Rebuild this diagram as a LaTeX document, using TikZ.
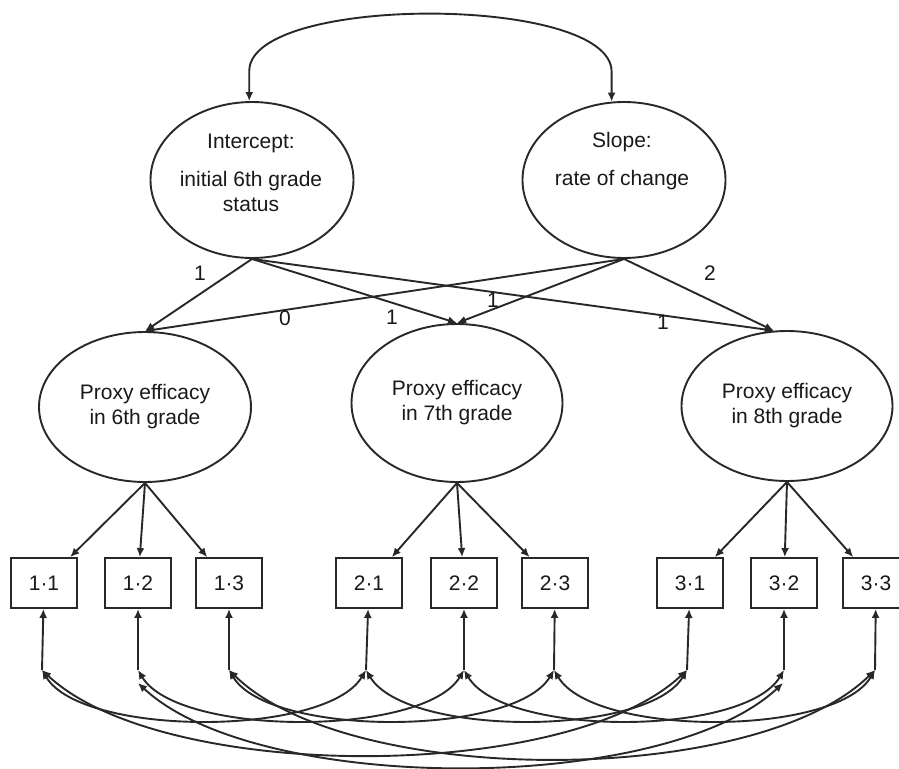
\documentclass[tikz,border=0pt]{standalone}
\usepackage{fontspec}
\setmainfont{Liberation Sans}
\usetikzlibrary{shapes.geometric,arrows.meta,calc}
\definecolor{ink}{RGB}{40,40,40}
\definecolor{txt}{RGB}{25,25,25}
\begin{document}
\begin{tikzpicture}[x=1pt,y=-1pt,
 every node/.style={font=\fontsize{21}{25}\selectfont, text=txt},
 lat/.style={draw=ink, line width=1.9pt, ellipse, inner sep=0pt},
 obs/.style={draw=ink, line width=1.9pt, rectangle, minimum width=66pt, minimum height=50pt, inner sep=0pt},
 arr/.style={draw=ink, line width=1.9pt, -{Latex[length=9pt,width=8pt]}},
 dbl/.style={draw=ink, line width=1.9pt, {Latex[length=9pt,width=8pt]}-{Latex[length=9pt,width=8pt]}},
 lbl/.style={inner sep=0pt}]
\useasboundingbox (0,0) rectangle (899,768);
\fill[white] (0,0) rectangle (899,768);

% growth factors
\node[lat, minimum width=203pt, minimum height=156pt] (int) at (252,180) {};
\node[lat, minimum width=203pt, minimum height=156pt] (slp) at (624,180) {};
\node[align=center] (intT) at (251,173) {Intercept:\\[13pt] initial 6th grade\\ status};
\node[align=center] (slpT) at (622,161) {Slope:\\[13pt] rate of change};

% latent proxy efficacy
\node[lat, minimum width=212pt, minimum height=150pt, align=center] (p6) at (145,407) {Proxy efficacy\\ in 6th grade};
\node[lat, minimum width=211pt, minimum height=158pt, align=center] (p7) at (457,403) {Proxy efficacy\\ in 7th grade};
\node[lat, minimum width=211pt, minimum height=150pt, align=center] (p8) at (787,406) {Proxy efficacy\\ in 8th grade};

% indicators
\node[obs] (b11) at (44,583) {1·1};
\node[obs] (b12) at (138,583) {1·2};
\node[obs] (b13) at (229,583) {1·3};
\node[obs] (b21) at (369,583) {2·1};
\node[obs] (b22) at (464,583) {2·2};
\node[obs] (b23) at (555,583) {2·3};
\node[obs] (b31) at (690,583) {3·1};
\node[obs] (b32) at (784,583) {3·2};
\node[obs] (b33) at (876,583) {3·3};

% error points
\coordinate (j11) at (42,670);
\coordinate (j12) at (138,670);
\coordinate (j12b) at (138,683);
\coordinate (j13) at (229,670);
\coordinate (j21) at (366,670);
\coordinate (j22) at (464,670);
\coordinate (j23) at (554,670);
\coordinate (j31) at (687,670);
\coordinate (j32) at (784,670);
\coordinate (j32b) at (783,683);
\coordinate (j33) at (875,670);

% factor covariance
\draw[dbl] (int.92) -- ($(int.92)+(0,-30)$) .. controls ($(int.92)+(0,-107)$) and ($(slp.99)+(0,-107)$) .. ($(slp.99)+(0,-30)$) -- (slp.99);

% growth loadings
\draw[arr] (int.south) -- (p6.north);
\draw[arr] (int.south) -- (p7.north);
\draw[arr] (int.south) -- (p8.100);
\draw[arr] (slp.south) -- (p6.north);
\draw[arr] (slp.south) -- (p7.north);
\draw[arr] (slp.south) -- (p8.100);

\node[lbl] (l1) at (200,273) {1};
\node[lbl] (l2) at (285,318) {0};
\node[lbl] (l3) at (392,317) {1};
\node[lbl] (l4) at (493,300) {1};
\node[lbl] (l5) at (710,273) {2};
\node[lbl] (l6) at (663,322) {1};

% measurement loadings
\foreach \b in {b11,b12,b13} \draw[arr] (p6.south) -- (\b);
\foreach \b in {b21,b22,b23} \draw[arr] (p7.south) -- (\b);
\foreach \b in {b31,b32,b33} \draw[arr] (p8.south) -- (\b);

% errors
\draw[arr] (j11) -- (b11);
\draw[arr] (j12) -- (b12);
\draw[arr] (j13) -- (b13);
\draw[arr] (j21) -- (b21);
\draw[arr] (j22) -- (b22);
\draw[arr] (j23) -- (b23);
\draw[arr] (j31) -- (b31);
\draw[arr] (j32) -- (b32);
\draw[arr] (j33) -- (b33);

% error covariances (adjacent waves)
\draw[dbl] (j11) .. controls ($(j11)+(40,67)$) and ($(j21)+(-40,67)$) .. (j21);
\draw[dbl] (j12) .. controls ($(j12)+(40,67)$) and ($(j22)+(-40,67)$) .. (j22);
\draw[dbl] (j13) .. controls ($(j13)+(40,67)$) and ($(j23)+(-40,67)$) .. (j23);
\draw[dbl] (j21) .. controls ($(j21)+(40,67)$) and ($(j31)+(-40,67)$) .. (j31);
\draw[dbl] (j22) .. controls ($(j22)+(40,67)$) and ($(j32)+(-40,67)$) .. (j32);
\draw[dbl] (j23) .. controls ($(j23)+(40,67)$) and ($(j33)+(-40,67)$) .. (j33);
% error covariances (6th to 8th)
\draw[dbl] (j11) .. controls ($(j11)+(120,113)$) and ($(j31)+(-120,113)$) .. (j31);
\draw[dbl] (j12b) .. controls ($(j12b)+(120,112)$) and ($(j32b)+(-120,112)$) .. (j32b);
\draw[dbl] (j13) .. controls ($(j13)+(120,118)$) and ($(j33)+(-120,118)$) .. (j33);
\end{tikzpicture}
\end{document}
